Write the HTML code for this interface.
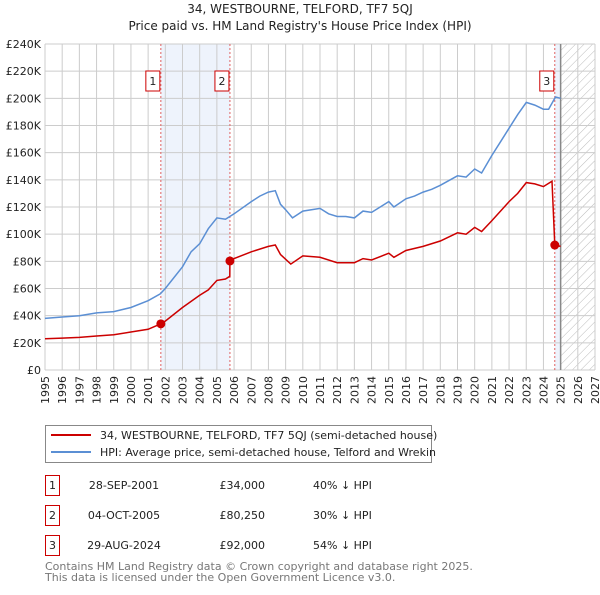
<!DOCTYPE html>
<html><head><meta charset="utf-8"><style>
body{margin:0;background:#fff;font-family:"Liberation Sans","DejaVu Sans",sans-serif;}
svg text{font-family:"DejaVu Sans","Liberation Sans",sans-serif;}
</style></head><body>
<svg id="c" width="600" height="590" viewBox="0 0 600 590" xmlns="http://www.w3.org/2000/svg">
<defs><pattern id="hatch" width="6" height="6" patternUnits="userSpaceOnUse" patternTransform="rotate(45)"><line x1="0" y1="0" x2="0" y2="6" stroke="#bbb" stroke-width="1"/></pattern></defs>
<text x="300" y="13" text-anchor="middle" font-size="12" fill="#222">34, WESTBOURNE, TELFORD, TF7 5QJ</text>
<text x="300" y="30" text-anchor="middle" font-size="12" fill="#222">Price paid vs. HM Land Registry's House Price Index (HPI)</text>
<g id="plot"></g>
<g>
<rect x="45.5" y="425.5" width="386" height="37" fill="#fff" stroke="#888"/>
<line x1="51" y1="435" x2="91" y2="435" stroke="#cc0000" stroke-width="2"/>
<text x="100" y="439" font-size="11" fill="#222">34, WESTBOURNE, TELFORD, TF7 5QJ (semi-detached house)</text>
<line x1="51" y1="452" x2="91" y2="452" stroke="#5b8fd4" stroke-width="2"/>
<text x="100" y="456" font-size="11" fill="#222">HPI: Average price, semi-detached house, Telford and Wrekin</text>
</g>
<g font-size="11" fill="#222">
<rect x="45.5" y="475.5" width="14" height="20" fill="#fff" stroke="#cc0000"/><text x="52.5" y="489" text-anchor="middle">1</text>
<text x="124" y="489" text-anchor="middle">28-SEP-2001</text><text x="265" y="489" text-anchor="end">£34,000</text><text x="313" y="489">40% ↓ HPI</text>
<rect x="45.5" y="505.5" width="14" height="20" fill="#fff" stroke="#cc0000"/><text x="52.5" y="519" text-anchor="middle">2</text>
<text x="124" y="519" text-anchor="middle">04-OCT-2005</text><text x="265" y="519" text-anchor="end">£80,250</text><text x="313" y="519">30% ↓ HPI</text>
<rect x="45.5" y="535.5" width="14" height="20" fill="#fff" stroke="#cc0000"/><text x="52.5" y="549" text-anchor="middle">3</text>
<text x="124" y="549" text-anchor="middle">29-AUG-2024</text><text x="265" y="549" text-anchor="end">£92,000</text><text x="313" y="549">54% ↓ HPI</text>
</g>
<text x="45" y="570" font-size="11" fill="#777">Contains HM Land Registry data © Crown copyright and database right 2025.</text>
<text x="45" y="581" font-size="11" fill="#777">This data is licensed under the Open Government Licence v3.0.</text>
</svg>
<script>
const hpiYears=[1995,1996,1997,1998,1999,2000,2001,2001.7,2002,2003,2003.5,2004,2004.5,2005,2005.5,2006,2007,2007.5,2008,2008.4,2008.7,2009,2009.4,2010,2010.5,2011,2011.5,2012,2012.5,2013,2013.5,2014,2014.5,2015,2015.3,2016,2016.5,2017,2017.5,2018,2019,2019.5,2020,2020.4,2021,2021.5,2022,2022.5,2023,2023.5,2024,2024.3,2024.7,2025];
const hpiValues=[38,39,40,42,43,46,51,56,60,76,87,93,104,112,111,115,124,128,131,132,122,118,112,117,118,119,115,113,113,112,117,116,120,124,120,126,128,131,133,136,143,142,148,145,158,168,178,188,197,195,192,192,201,200];
const propYears=[1995,1996,1997,1998,1999,2000,2001,2001.74,2002,2003,2004,2004.5,2005,2005.5,2005.75,2005.76,2006,2007,2008,2008.4,2008.7,2009.3,2010,2011,2012,2013,2013.5,2014,2015,2015.3,2016,2017,2018,2019,2019.5,2020,2020.4,2021,2022,2022.5,2023,2023.5,2024,2024.5,2024.66,2025];
const propValues=[23,23.5,24,25,26,28,30,34,36,46,55,59,66,67,69,80.25,82,87,91,92,85,78,84,83,79,79,82,81,86,83,88,91,95,101,100,105,102,110,124,130,138,137,135,139,92,91];
const saleYears=[2001.74,2005.76,2024.66];
const saleValues=[34,80.25,92];
const saleLabels=["1","2","3"];
const yTicks=[0,20,40,60,80,100,120,140,160,180,200,220,240];
const xTicks=[1995,1996,1997,1998,1999,2000,2001,2002,2003,2004,2005,2006,2007,2008,2009,2010,2011,2012,2013,2014,2015,2016,2017,2018,2019,2020,2021,2022,2023,2024,2025,2026,2027];
const X0=45,X1=595,Y0=370,Y1=44;
const xs=y=>X0+(y-1995)/32*(X1-X0);
const ys=v=>Y0-v/240*(Y0-Y1);
const NS="http://www.w3.org/2000/svg";
const g=document.getElementById('plot');
function mk(t,a){const e=document.createElementNS(NS,t);for(const k in a)e.setAttribute(k,a[k]);g.appendChild(e);return e;}
let e=mk('rect',{x:xs(saleYears[0]),y:Y1,width:xs(saleYears[1])-xs(saleYears[0]),height:Y0-Y1,fill:'#eef3fc'});


e=mk('rect',{x:xs(saleYears[2]),y:Y1,width:xs(2025)-xs(saleYears[2]),height:Y0-Y1,fill:'#eef3fc'});


e=mk('rect',{x:xs(2025),y:Y1,width:X1-xs(2025),height:Y0-Y1,fill:'url(#hatch)'});


yTicks.forEach(v=>{
 e=mk('line',{x1:X0,x2:X1,y1:ys(v),y2:ys(v),stroke:'#ccc','stroke-width':1});
 
 
 e=mk('text',{x:X0-4,y:ys(v)+4,'text-anchor':'end','font-size':11,fill:'#222'});
 e.textContent=v===0?'£0':'£'+v+'K';
 
 
});
xTicks.forEach(y=>{
 e=mk('line',{x1:xs(y),x2:xs(y),y1:Y1,y2:Y0,stroke:'#ccc','stroke-width':1});
 
 
 e=mk('text',{x:0,y:0,'text-anchor':'end','font-size':11,fill:'#222',transform:`translate(${xs(y)+4},${Y0+6}) rotate(-90)`});
 e.textContent=String(y);
 
 
});
e=mk('line',{x1:xs(2025),x2:xs(2025),y1:Y1,y2:Y0,stroke:'#888','stroke-width':1.5});


saleYears.forEach((y,i)=>{
 e=mk('line',{x1:xs(y),x2:xs(y),y1:Y1,y2:Y0,stroke:'#e06060','stroke-width':1,'stroke-dasharray':'2,2'});
 
 
 e=mk('rect',{x:xs(y)-8-7,y:71,width:14,height:20,fill:'#fff',stroke:'#cc0000'});
 
 
 e=mk('text',{x:xs(y)-8,y:85,'text-anchor':'middle','font-size':11,fill:'#222'});
 e.textContent=saleLabels[i];
 
 
});
const pts=(a,b)=>a.map((y,i)=>xs(y).toFixed(1)+','+ys(b[i]).toFixed(1)).join(' ');
e=mk('polyline',{points:pts(hpiYears,hpiValues),fill:'none',stroke:'#5b8fd4','stroke-width':1.5});


e=mk('polyline',{points:pts(propYears,propValues),fill:'none',stroke:'#cc0000','stroke-width':1.5});


saleYears.forEach((y,i)=>{
 e=mk('circle',{cx:xs(y),cy:ys(saleValues[i]),r:4.5,fill:'#cc0000'});
 
 
});
</script>
</body></html>
